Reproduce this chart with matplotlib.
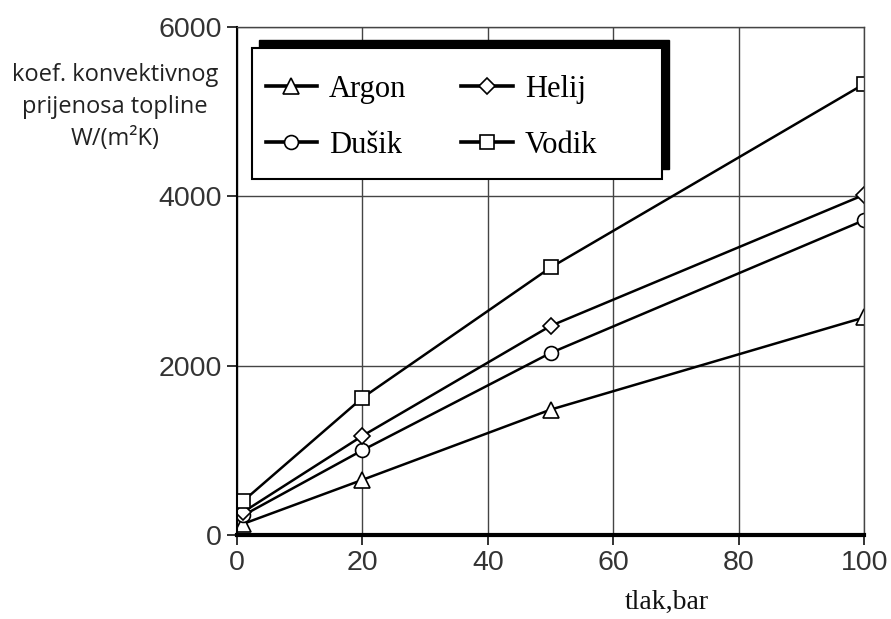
import matplotlib
matplotlib.use("Agg")
import matplotlib.pyplot as plt
from matplotlib.patches import Rectangle

# pressure points (bar)
tlak = [1, 20, 50, 100]

# convective heat transfer coefficient W/(m2K)
argon = [130, 650, 1480, 2570]
dusik = [230, 1000, 2150, 3720]
helij = [270, 1170, 2470, 4020]
vodik = [400, 1620, 3160, 5330]

x_ticks = [0, 20, 40, 60, 80, 100]
y_ticks = [0, 2000, 4000, 6000]

fig = plt.figure(figsize=(8.91, 6.19), dpi=100)
ax = fig.add_axes([0.266, 0.136, 0.704, 0.820])

mk = dict(color="black", lw=1.8, markerfacecolor="white",
          markeredgecolor="black", markeredgewidth=1.2)
ax.plot(tlak, argon, marker="^", markersize=11, label="Argon", **mk)
ax.plot(tlak, dusik, marker="o", markersize=10, label="Dušik", **mk)
ax.plot(tlak, helij, marker="D", markersize=8, label="Helij", **mk)
ax.plot(tlak, vodik, marker="s", markersize=10, label="Vodik", **mk)

ax.set_xlim(0, 100)
ax.set_ylim(0, 6000)
ax.set_xticks(x_ticks)
ax.set_yticks(y_ticks)
ax.grid(True, color="#444444", lw=1.0)
ax.set_axisbelow(True)
for s in ["top", "right"]:
    ax.spines[s].set_color("#444444")
    ax.spines[s].set_linewidth(1.0)
ax.spines["left"].set_linewidth(1.5)
ax.spines["bottom"].set_linewidth(3)
ax.tick_params(direction="out", length=7, width=1.3, colors="#222222",
               labelsize=20.5, pad=4)
for t in ax.get_xticklabels() + ax.get_yticklabels():
    t.set_fontfamily("Liberation Sans")
    t.set_color("#333333")

# legend box with a heavy shadow to the upper right
ax.add_patch(Rectangle((0.035, 0.720), 0.653, 0.254, transform=ax.transAxes,
                       facecolor="black", edgecolor="black", zorder=5))
ax.add_patch(Rectangle((0.024, 0.701), 0.654, 0.258, transform=ax.transAxes,
                       facecolor="white", edgecolor="black", lw=1.5, zorder=6))
leg = ax.legend(ncol=2, loc="upper left", bbox_to_anchor=(0.046, 0.906),
                frameon=False, prop={"family": "Liberation Serif", "size": 22},
                handlelength=1.67, handletextpad=0.4, columnspacing=1.8,
                labelspacing=0.88, borderpad=0, borderaxespad=0)
leg.set_zorder(7)
for h in leg.legend_handles:
    h.set_linewidth(2.6)

fig.text(0.748, 0.026, "tlak,bar", family="Liberation Serif", fontsize=20,
         ha="center", va="center", color="#111111")
fig.text(0.129, 0.827, "koef. konvektivnog\nprijenosa topline\nW/(m²K)",
         family="Open Sans", fontsize=17, ha="center", va="center",
         linespacing=1.45, color="#222222")

fig.savefig("out.png", dpi=100)
